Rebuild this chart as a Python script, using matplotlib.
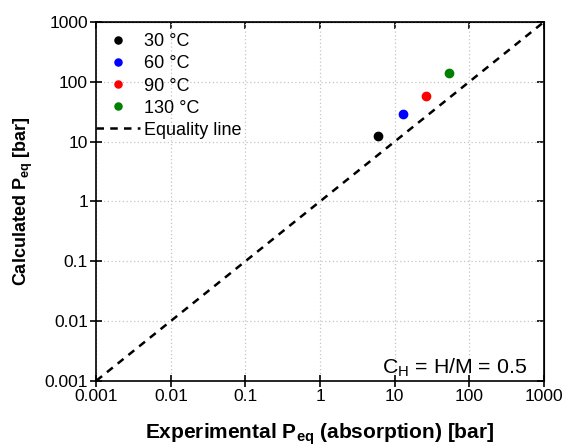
import matplotlib
matplotlib.use("Agg")
import matplotlib.pyplot as plt

plt.rcParams['font.family'] = ['Liberation Sans', 'DejaVu Sans']

# Data
temps = ["30 °C", "60 °C", "90 °C", "130 °C"]
colors = ["black", "blue", "red", "green"]
p_exp = [5.9, 12.8, 26.5, 53]
p_calc = [12.6, 28.5, 58, 142]
line_x = [0.001, 1000]
ticks = [0.001, 0.01, 0.1, 1, 10, 100, 1000]
tick_labels = ["0.001", "0.01", "0.1", "1", "10", "100", "1000"]

fig = plt.figure(figsize=(5.66, 4.48), dpi=100)
ax = fig.add_axes([0.170, 0.150, 0.791, 0.801])

for t, c, x, y in zip(temps, colors, p_exp, p_calc):
    ax.plot([x], [y], 'o', color=c, markersize=6, label=t, linestyle='none')
ax.plot(line_x, line_x, '--', color='black', lw=1.8, dashes=(3, 2.5), label="Equality line")

ax.set_xscale('log')
ax.set_yscale('log')
ax.set_xlim(0.001, 1000)
ax.set_ylim(0.001, 1000)
ax.set_xticks(ticks)
ax.set_xticklabels(tick_labels)
ax.set_yticks(ticks)
ax.set_yticklabels(tick_labels)
ax.minorticks_off()
ax.tick_params(axis='both', labelsize=12.5, direction='inout', length=8, width=1.2, pad=2)
ax.grid(True, linestyle=(0, (1, 2)), color='#c4c4c4', lw=0.9)

# inward mirror ticks on top and right
ax2 = ax.secondary_xaxis('top')
ax2.set_xticks(ticks)
ax2.tick_params(direction='in', length=5, width=1.2, labeltop=False)
ax3 = ax.secondary_yaxis('right')
ax3.set_yticks(ticks)
ax3.tick_params(direction='in', length=5, width=1.2, labelright=False)
ax2.xaxis.set_minor_locator(matplotlib.ticker.NullLocator())
ax3.yaxis.set_minor_locator(matplotlib.ticker.NullLocator())

for s in ax.spines.values():
    s.set_linewidth(1.2)

ax.set_xlabel("Experimental P$_{\\mathregular{eq}}$ (absorption) [bar]", fontsize=15, fontweight='bold', labelpad=12)
ax.set_ylabel("Calculated P$_{\\mathregular{eq}}$ [bar]", fontsize=13, fontweight='bold', labelpad=7)

ax.text(0.962, 0.022, "C$_{\\mathregular{H}}$ = H/M = 0.5", transform=ax.transAxes,
        ha='right', va='baseline', fontsize=15.3)

leg = ax.legend(loc='upper left', bbox_to_anchor=(0.0, 0.968), frameon=False, fontsize=13,
                handlelength=2.45, handletextpad=0.2, labelspacing=0.28, borderaxespad=0.0,
                borderpad=0.0, markerscale=0.85)

fig.savefig("out.png", dpi=100)
